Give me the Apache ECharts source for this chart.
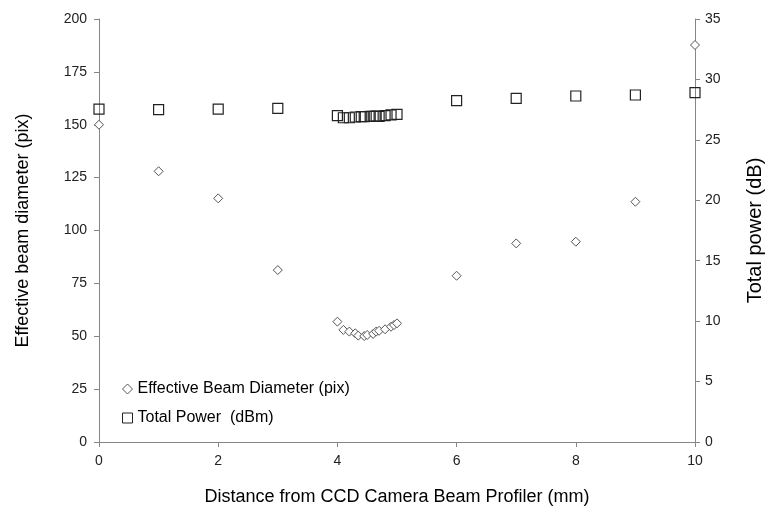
<!DOCTYPE html>
<html>
<head>
<meta charset="utf-8">
<script src="https://cdn.jsdelivr.net/npm/echarts@6/dist/echarts.min.js"></script>
<style>html,body{margin:0;padding:0;background:#fff;overflow:hidden}#c{width:768px;height:516px}</style>
</head>
<body>
<div id="c"></div>
<script>
var diamX = [0, 1, 2, 3, 4.0, 4.1, 4.2, 4.3, 4.35, 4.45, 4.5, 4.6, 4.65, 4.7, 4.8, 4.9, 4.95, 5.0, 6, 7, 8, 9, 10];
var diamY = [150, 128, 115.2, 81.3, 56.9, 53.0, 52.2, 51.4, 50.3, 50.1, 50.6, 51.1, 52.2, 52.6, 53.3, 54.5, 55.3, 56.1, 78.6, 93.9, 94.7, 113.6, 187.7];
var powX = [0, 1, 2, 3, 4.0, 4.1, 4.2, 4.3, 4.4, 4.45, 4.55, 4.6, 4.65, 4.7, 4.8, 4.9, 5.0, 6, 7, 8, 9, 10];
var powY = [27.55, 27.5, 27.55, 27.6, 27.0, 26.83, 26.83, 26.89, 26.92, 26.92, 26.95, 26.95, 26.97, 26.95, 27.0, 27.06, 27.11, 28.24, 28.44, 28.63, 28.71, 28.9];
var xTicks = [0, 2, 4, 6, 8, 10];
var seriesNames = ['Effective Beam Diameter (pix)', 'Total Power  (dBm)'];
var axisTitles = ['Distance from CCD Camera Beam Profiler (mm)', 'Effective beam diameter (pix)', 'Total power (dB)'];

function pairs(xs, ys) { return xs.map(function (x, i) { return [x, ys[i]]; }); }

var axisColor = '#868686';
var labelFont = { color: '#222', fontSize: 14, fontFamily: 'Liberation Sans Narrow, Liberation Sans, sans-serif' };
var chart = echarts.init(document.getElementById('c'), null, { renderer: 'canvas', width: 768, height: 516 });
chart.setOption({
  animation: false,
  backgroundColor: '#fff',
  grid: { left: 99, top: 19, right: 73, bottom: 74, containLabel: false, outerBoundsMode: 'none' },
  legend: {
    orient: 'vertical', left: 117, top: 376, itemGap: 13, itemWidth: 10, itemHeight: 10,
    textStyle: { color: '#000', fontSize: 16, fontFamily: 'Liberation Sans, Arial, sans-serif' },
    data: [
      { name: seriesNames[0], icon: 'diamond', itemStyle: { color: '#fff', borderColor: '#555', borderWidth: 1 } },
      { name: seriesNames[1], icon: 'rect', itemStyle: { color: '#fff', borderColor: '#222', borderWidth: 1 } }
    ]
  },
  xAxis: {
    type: 'value', min: 0, max: 10, interval: 2,
    name: axisTitles[0], nameLocation: 'middle', nameGap: 46,
    nameTextStyle: { color: '#000', fontSize: 18, fontFamily: 'Liberation Sans, Arial, sans-serif' },
    axisLine: { onZero: false, lineStyle: { color: axisColor, width: 1 } },
    axisTick: { show: true, length: 5, lineStyle: { color: axisColor } },
    axisLabel: Object.assign({ margin: 12 }, labelFont),
    splitLine: { show: false }
  },
  yAxis: [
    {
      type: 'value', min: 0, max: 200, interval: 25, position: 'left',
      name: axisTitles[1], nameLocation: 'middle', nameGap: 67, nameRotate: 90,
      nameTextStyle: { color: '#000', fontSize: 18, fontFamily: 'Liberation Sans, Arial, sans-serif' },
      axisLine: { show: true, lineStyle: { color: axisColor, width: 1 } },
      axisTick: { show: true, length: 5, lineStyle: { color: axisColor } },
      axisLabel: Object.assign({ margin: 12 }, labelFont),
      splitLine: { show: false }
    },
    {
      type: 'value', min: 0, max: 35, interval: 5, position: 'right',
      name: axisTitles[2], nameLocation: 'middle', nameGap: 50, nameRotate: 90,
      nameTextStyle: { color: '#000', fontSize: 20, fontFamily: 'Liberation Sans, Arial, sans-serif' },
      axisLine: { show: true, lineStyle: { color: axisColor, width: 1 } },
      axisTick: { show: true, length: 5, lineStyle: { color: axisColor } },
      axisLabel: Object.assign({ margin: 10 }, labelFont),
      splitLine: { show: false }
    }
  ],
  series: [
    {
      name: seriesNames[0], type: 'scatter', yAxisIndex: 0, symbol: 'diamond', symbolSize: 9,
      itemStyle: { color: '#fff', borderColor: '#555', borderWidth: 1, opacity: 1 },
      data: pairs(diamX, diamY), z: 3
    },
    {
      name: seriesNames[1], type: 'scatter', yAxisIndex: 1, symbol: 'rect', symbolSize: 10,
      itemStyle: { color: 'rgba(255,255,255,0)', borderColor: '#222', borderWidth: 1.2, opacity: 1 },
      data: pairs(powX, powY), z: 4
    }
  ]
});
</script>
</body>
</html>
